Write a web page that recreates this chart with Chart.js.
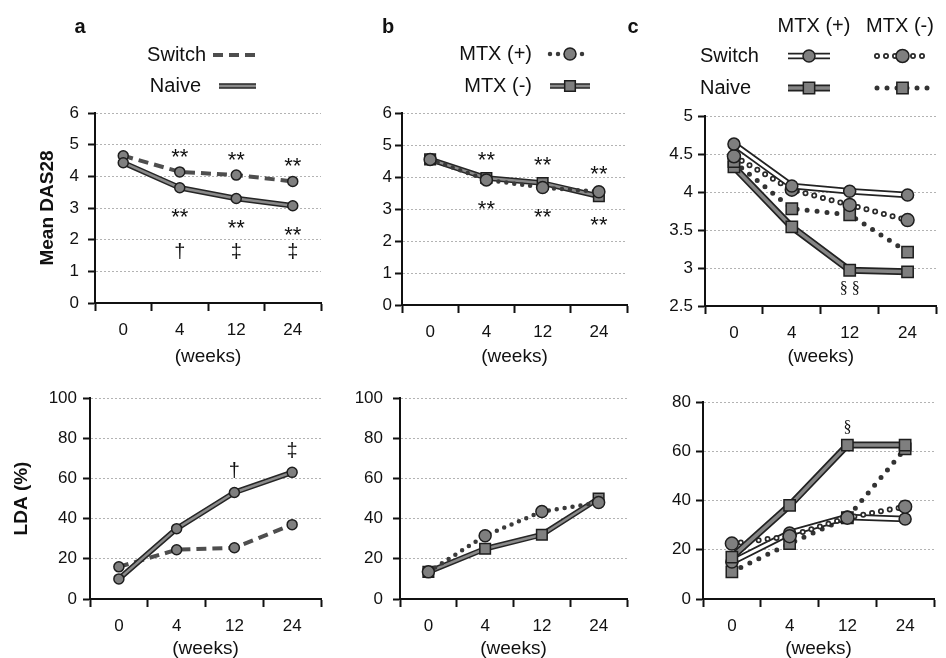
<!DOCTYPE html>
<html>
<head>
<meta charset="utf-8">
<script src="https://cdn.jsdelivr.net/npm/chart.js@4.4.0/dist/chart.umd.min.js"></script>
<style>
  html, body { margin: 0; padding: 0; background: #fff; overflow: hidden; }
  #page { position: relative; width: 946px; height: 658px; }
  .panel { position: absolute; }
</style>
</head>
<body>
<div id="page"></div>
<script>
// Time points (weeks)
const weeks = ['0', '4', '12', '24'];

// a: switch vs naive
const dasSwitch = [4.65, 4.14, 4.04, 3.84];
const dasNaive  = [4.43, 3.64, 3.30, 3.07];
const ldaSwitch = [16, 24.5, 25.5, 37];
const ldaNaive  = [10, 35, 53, 63];

// b: with / without MTX
const dasMtxPlus  = [4.55, 3.91, 3.67, 3.54];
const dasMtxMinus = [4.55, 3.97, 3.81, 3.40];
const ldaMtxPlus  = [13.5, 31.5, 43.5, 48];
const ldaMtxMinus = [13.5, 25, 32, 50];

// c: group x MTX
const dasSwitchPlus  = [4.63, 4.08, 4.01, 3.96];
const dasSwitchMinus = [4.47, 4.03, 3.83, 3.63];
const dasNaivePlus   = [4.33, 3.54, 2.97, 2.95];
const dasNaiveMinus  = [4.40, 3.78, 3.70, 3.21];
const ldaSwitchPlus  = [15, 26.8, 33.3, 32.5];
const ldaSwitchMinus = [22.5, 25.5, 33, 37.5];
const ldaNaivePlus   = [17, 38, 62.5, 62.5];
const ldaNaiveMinus  = [11, 22.5, 33, 61];

// significance marks per time point
const sigStars     = ['', '**', '**', '**'];
const sigDasGroup  = ['', '\u2020', '\u2021', '\u2021'];
const sigLdaGroup  = ['', '', '\u2020', '\u2021'];
const sigDasC      = ['', '', '\u00a7 \u00a7', ''];
const sigLdaC      = ['', '', '\u00a7', ''];

// y ranges [min, max, step]
const dasRange  = [0, 6, 1];
const ldaRange  = [0, 100, 20];
const dasRangeC = [2.5, 5, 0.5];
const ldaRangeC = [0, 80, 20];

const FONT = "'Liberation Sans', Arial, sans-serif";
const INK = '#111';
const MARK_FILL = '#7f7f7f';
const MARK_EDGE = '#1e1e1e';

// line looks: stacked strokes (drawn bottom-up) plus a marker
const looks = {
  dashed:  { strokes: [{ color: '#4e4e4e', width: 4, dash: [10, 6] }], point: { style: 'circle', radius: 5 } },
  piped:   { strokes: [{ color: '#262626', width: 5.5 }, { color: '#8a8a8a', width: 2.5 }], point: { style: 'circle', radius: 5 } },
  dotted:  { strokes: [{ color: '#3a3a3a', width: 4.5, dash: [0, 8], cap: 'round' }], point: { style: 'circle', radius: 6 } },
  pipedSq: { strokes: [{ color: '#262626', width: 5.5 }, { color: '#8a8a8a', width: 2.5 }], point: { style: 'rect', radius: 7.5 } },
  hollow:  { strokes: [{ color: '#222', width: 6.5 }, { color: '#fff', width: 3 }], point: { style: 'circle', radius: 6 } },
  rings:   { strokes: [{ color: '#2a2a2a', width: 6, dash: [0, 9], cap: 'round' }, { color: '#fff', width: 2.5, dash: [0, 9], cap: 'round' }], point: { style: 'circle', radius: 6.5 } },
  thickSq: { strokes: [{ color: '#222', width: 7 }, { color: '#858585', width: 3.5 }], point: { style: 'rect', radius: 8 } },
  dotsSq:  { strokes: [{ color: '#333', width: 5, dash: [0, 10], cap: 'round' }], point: { style: 'rect', radius: 8 } }
};

function strokesFor(values, look) {
  return look.strokes.map((s, i) => {
    const top = i === look.strokes.length - 1;
    return {
      data: values,
      borderColor: s.color,
      borderWidth: s.width,
      borderDash: s.dash || [],
      borderCapStyle: s.cap || 'butt',
      borderJoinStyle: 'round',
      tension: 0,
      fill: false,
      pointStyle: look.point.style,
      pointRadius: top ? look.point.radius : 0,
      pointHoverRadius: top ? look.point.radius : 0,
      pointBackgroundColor: MARK_FILL,
      pointBorderColor: MARK_EDGE,
      pointBorderWidth: 1.5
    };
  });
}

function drawMarker(ctx, point, x, y) {
  ctx.save();
  ctx.fillStyle = MARK_FILL;
  ctx.strokeStyle = MARK_EDGE;
  ctx.lineWidth = 1.5;
  ctx.setLineDash([]);
  ctx.beginPath();
  if (point.style === 'rect') {
    const h = point.radius * Math.SQRT1_2;
    ctx.rect(x - h, y - h, 2 * h, 2 * h);
  } else {
    ctx.arc(x, y, point.radius, 0, Math.PI * 2);
  }
  ctx.fill();
  ctx.stroke();
  ctx.restore();
}

function drawKey(ctx, look, x1, x2, y, withMarker) {
  look.strokes.forEach(s => {
    ctx.save();
    ctx.beginPath();
    ctx.lineWidth = s.width;
    ctx.strokeStyle = s.color;
    ctx.setLineDash(s.dash || []);
    ctx.lineCap = s.cap || 'butt';
    ctx.moveTo(x1, y);
    ctx.lineTo(x2, y);
    ctx.stroke();
    ctx.restore();
  });
  if (withMarker) drawMarker(ctx, look.point, (x1 + x2) / 2, y);
}

// panel letters, legend keys and significance marks for one panel
function makeDecor(p) {
  const [ox, oy] = p.box;
  return {
    id: 'decor',
    afterDraw(chart) {
      const ctx = chart.ctx;
      ctx.save();
      ctx.translate(-ox, -oy);
      (p.texts || []).forEach(t => {
        ctx.font = t.font;
        ctx.fillStyle = INK;
        ctx.textAlign = t.align || 'left';
        ctx.textBaseline = 'middle';
        ctx.fillText(t.text, t.x, t.y);
      });
      (p.keys || []).forEach(k => drawKey(ctx, looks[k.look], k.x1, k.x2, k.y, k.marker));
      ctx.restore();

      const xs = chart.scales.x, ys = chart.scales.y;
      (p.marks || []).forEach(m => {
        m.texts.forEach((txt, i) => {
          if (!txt) return;
          const py = chart.data.datasets.map(d => ys.getPixelForValue(d.data[i]));
          let cy;
          if (typeof m.at === 'number') cy = ys.getPixelForValue(m.at);
          else if (m.place === 'above') cy = Math.min(...py) - m.dy;
          else cy = Math.max(...py) + m.dy;
          ctx.save();
          ctx.font = m.font;
          ctx.fillStyle = INK;
          ctx.textAlign = 'center';
          ctx.textBaseline = 'alphabetic';
          const mt = ctx.measureText(txt);
          ctx.fillText(txt, xs.getPixelForValue(i), cy + (mt.actualBoundingBoxAscent - mt.actualBoundingBoxDescent) / 2);
          ctx.restore();
        });
      });
    }
  };
}

const LEGEND_FONT = '20px ' + FONT;
const LETTER_FONT = 'bold 20px ' + FONT;
const STAR_FONT = '22px ' + FONT;
const DAGGER_FONT = '20px ' + FONT;
const SECT_FONT = "16px 'Liberation Serif', 'Times New Roman', serif";

const panels = [
  {
    box: [0, 0, 330, 372], area: [95, 113, 321, 303], range: dasRange,
    yTitle: 'Mean DAS28', padLeft: 32, tickPad: 9,
    series: [[dasSwitch, 'dashed'], [dasNaive, 'piped']],
    texts: [
      { text: 'a', x: 80, y: 27, align: 'center', font: LETTER_FONT },
      { text: 'Switch', x: 206, y: 55, align: 'right', font: LEGEND_FONT },
      { text: 'Naive', x: 201, y: 86, align: 'right', font: LEGEND_FONT }
    ],
    keys: [
      { look: 'dashed', x1: 213, x2: 256, y: 55, marker: false },
      { look: 'piped', x1: 219, x2: 256, y: 86, marker: false }
    ],
    marks: [
      { texts: sigStars, place: 'above', dy: 19, font: STAR_FONT },
      { texts: sigStars, place: 'below', dy: 25, font: STAR_FONT },
      { texts: sigDasGroup, at: 1.65, font: DAGGER_FONT }
    ]
  },
  {
    box: [320, 0, 316, 372], area: [402, 113, 631, 305], range: dasRange,
    padLeft: 0, tickPad: 3,
    series: [[dasMtxMinus, 'pipedSq'], [dasMtxPlus, 'dotted']],
    texts: [
      { text: 'b', x: 388, y: 27, align: 'center', font: LETTER_FONT },
      { text: 'MTX (+)', x: 532, y: 54, align: 'right', font: LEGEND_FONT },
      { text: 'MTX (-)', x: 532, y: 86, align: 'right', font: LEGEND_FONT }
    ],
    keys: [
      { look: 'dotted', x1: 550, x2: 590, y: 54, marker: true },
      { look: 'pipedSq', x1: 550, x2: 590, y: 86, marker: true }
    ],
    marks: [
      { texts: sigStars, place: 'above', dy: 22, font: STAR_FONT },
      { texts: sigStars, place: 'below', dy: 25, font: STAR_FONT }
    ]
  },
  {
    box: [620, 0, 326, 372], area: [705, 116, 940, 306], range: dasRangeC,
    padLeft: 0, tickPad: 5,
    series: [[dasNaivePlus, 'thickSq'], [dasNaiveMinus, 'dotsSq'], [dasSwitchMinus, 'rings'], [dasSwitchPlus, 'hollow']],
    texts: [
      { text: 'c', x: 633, y: 27, align: 'center', font: LETTER_FONT },
      { text: 'MTX (+)', x: 814, y: 26, align: 'center', font: LEGEND_FONT },
      { text: 'MTX (-)', x: 900, y: 26, align: 'center', font: LEGEND_FONT },
      { text: 'Switch', x: 700, y: 56, align: 'left', font: LEGEND_FONT },
      { text: 'Naive', x: 700, y: 88, align: 'left', font: LEGEND_FONT }
    ],
    keys: [
      { look: 'hollow', x1: 788, x2: 830, y: 56, marker: true },
      { look: 'rings', x1: 877, x2: 928, y: 56, marker: true },
      { look: 'thickSq', x1: 788, x2: 830, y: 88, marker: true },
      { look: 'dotsSq', x1: 877, x2: 928, y: 88, marker: true }
    ],
    marks: [
      { texts: sigDasC, place: 'below', dy: 18, font: SECT_FONT }
    ]
  },
  {
    box: [0, 372, 330, 292], area: [90, 398, 321, 599], range: ldaRange,
    yTitle: 'LDA (%)', padLeft: 6, tickPad: 6,
    series: [[ldaSwitch, 'dashed'], [ldaNaive, 'piped']],
    marks: [
      { texts: sigLdaGroup, place: 'above', dy: 22, font: DAGGER_FONT }
    ]
  },
  {
    box: [320, 372, 316, 292], area: [400, 398, 632, 599], range: ldaRange,
    padLeft: 0, tickPad: 10,
    series: [[ldaMtxMinus, 'pipedSq'], [ldaMtxPlus, 'dotted']]
  },
  {
    box: [620, 372, 326, 292], area: [703, 402, 934, 599], range: ldaRangeC,
    padLeft: 0, tickPad: 5,
    series: [[ldaNaiveMinus, 'dotsSq'], [ldaSwitchPlus, 'hollow'], [ldaSwitchMinus, 'rings'], [ldaNaivePlus, 'thickSq']],
    marks: [
      { texts: sigLdaC, place: 'above', dy: 18, font: SECT_FONT }
    ]
  }
];

function buildPanel(p) {
  const [bx, by, bw, bh] = p.box;
  const [al, at, ar, ab] = p.area;
  const div = document.createElement('div');
  div.className = 'panel';
  div.style.left = bx + 'px';
  div.style.top = by + 'px';
  div.style.width = bw + 'px';
  div.style.height = bh + 'px';
  const canvas = document.createElement('canvas');
  canvas.width = bw;
  canvas.height = bh;
  div.appendChild(canvas);
  document.getElementById('page').appendChild(div);

  const datasets = [];
  p.series.forEach(([values, look]) => datasets.push(...strokesFor(values, looks[look])));
  datasets.forEach((d, i) => { d.order = datasets.length - i; });

  new Chart(canvas, {
    type: 'line',
    data: { labels: weeks, datasets },
    plugins: [makeDecor(p)],
    options: {
      responsive: false,
      animation: false,
      events: [],
      layout: { padding: { left: p.padLeft, top: at - by, right: bx + bw - ar, bottom: 0 } },
      plugins: {
        legend: { display: false },
        tooltip: { enabled: false }
      },
      scales: {
        x: {
          type: 'category',
          offset: true,
          grid: { offset: true, drawOnChartArea: false, tickLength: 8, tickWidth: 2, tickColor: INK, color: INK },
          border: { color: INK, width: 2 },
          ticks: { font: { family: FONT, size: 17 }, color: INK, padding: 9, maxRotation: 0, autoSkip: false },
          title: { display: true, text: '(weeks)', font: { family: FONT, size: 19 }, color: INK, padding: { top: 0, bottom: 4 } },
          afterFit: s => { s.height = by + bh - ab; }
        },
        y: {
          min: p.range[0],
          max: p.range[1],
          ticks: {
            stepSize: p.range[2],
            font: { family: FONT, size: 17 },
            color: INK,
            padding: p.tickPad,
            callback: v => String(v)
          },
          grid: { color: '#b3b3b3', lineWidth: 1, tickLength: 7, tickWidth: 2, tickColor: INK },
          border: { color: INK, width: 2, dash: [2, 2] },
          title: p.yTitle
            ? { display: true, text: p.yTitle, font: { family: FONT, size: 19, weight: 'bold' }, color: INK, padding: { top: 4, bottom: 0 } }
            : { display: false },
          afterFit: s => { s.width = al - bx - p.padLeft; }
        }
      }
    }
  });
}

panels.forEach(buildPanel);
</script>
</body>
</html>
